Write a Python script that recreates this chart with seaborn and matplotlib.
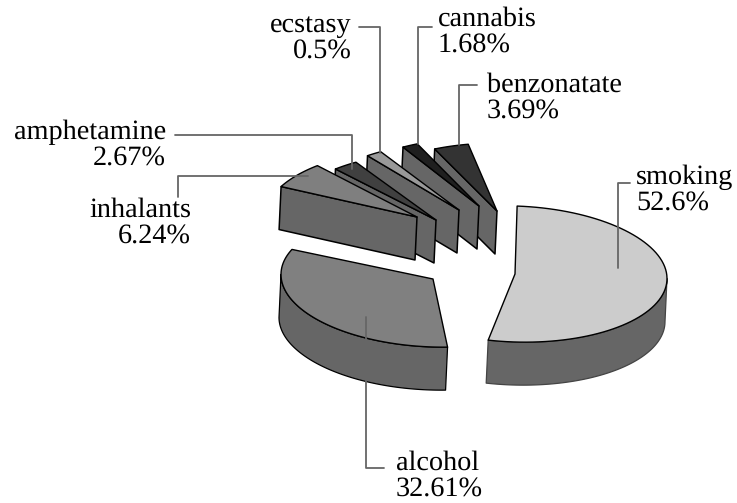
import numpy as np
import matplotlib
matplotlib.use("Agg")
import matplotlib.pyplot as plt
import seaborn as sns

# data
drugs = ["smoking", "alcohol", "inhalants", "amphetamine", "ecstasy", "cannabis", "benzonatate"]
percent = [52.6, 32.61, 6.24, 2.67, 0.5, 1.68, 3.69]

# how each wedge sits in the exploded pie (pixels, degrees clockwise from top)
start_deg = [0.8, 174.5, 296.6, 318.6, 323.0, 330.0, 335.8]
apex_px = [(515, 274), (433, 279), (417, 217), (436, 220), (459, 210), (479, 206), (497, 211)]
tilt = [0.03, 0.03, 0, 0, 0, 0, 0]
top_colors = ["#cccccc", "#808080", "#7f7f7f", "#404040", "#999999", "#1f1f1f", "#333333"]
wall_edges = ["#444444", "black", "black", "black", "black", "black", "black"]
side_color = "#666666"
rx, ry = 152, 68
depth = np.array([-2, 43])
min_sweep = 6.0

# text anchor of the label, first line baseline
label_pos = [(636, 184, "left"), (396, 470, "left"), (191, 217, "right"), (166, 139, "right"),
             (352, 32, "right"), (438, 26, "left"), (487, 92, "left")]
leaders = [[(630, 183), (618, 183), (618, 268)],
           [(366, 317), (366, 468), (384, 468)],
           [(178, 197), (178, 176), (308, 176)],
           [(175, 135), (352, 135), (352, 169)],
           [(359, 27), (380, 27), (380, 153)],
           [(432, 27), (418, 27), (418, 144)],
           [(477, 85), (459, 85), (459, 145)]]

sns.set_theme(style="white")
plt.rcParams["font.family"] = ["Liberation Serif", "DejaVu Serif"]
plt.rcParams["text.hinting"] = "none"
palette = sns.color_palette(top_colors)

fig, ax = plt.subplots(figsize=(7.37, 5.03), dpi=100)
ax.set_position([0, 0, 1, 1])


def arc(apex, a0, a1, k):
    t = np.radians(np.linspace(a0, a1, 80))
    dx = rx * np.sin(t)
    return np.column_stack([apex[0] + dx, apex[1] - ry * np.cos(t) + k * dx])


def poly(pts, color, z, edge="black", lw=1.0):
    ax.fill(pts[:, 0], pts[:, 1], facecolor=color, edgecolor=edge, linewidth=lw,
            joinstyle="round", zorder=z)


# back wedges first, the ones on the left lie over the ones on the right
for i in range(len(drugs) - 1, -1, -1):
    a0 = start_deg[i]
    a1 = a0 + max(percent[i] * 3.6, min_sweep)
    apex = np.array(apex_px[i], dtype=float)
    z = 10 + (len(drugs) - i) * 3

    lo, hi = max(a0, 90), min(a1, 270)
    if lo < hi:
        upper = arc(apex, lo, hi, tilt[i])
        poly(np.vstack([upper, upper[::-1] + depth]), side_color, z, wall_edges[i], 0.9)
    if 270 <= a0 < 360:
        p = arc(apex, a0, a0, tilt[i])[0]
        poly(np.array([p, apex, apex + depth, p + depth]), side_color, z, wall_edges[i], 1.1)

    top = np.vstack([[apex], arc(apex, a0, a1, tilt[i])])
    poly(top, palette[i], z + 1)

for pts in leaders:
    xs = [p[0] for p in pts]
    ys = [p[1] for p in pts]
    sns.lineplot(x=xs, y=ys, sort=False, estimator=None, color="#666666", linewidth=1.3,
                 ax=ax, zorder=50, legend=False)

for name, val, (x, y, ha) in zip(drugs, percent, label_pos):
    ax.text(x, y, name, fontsize=20.3, ha=ha, va="baseline", color="black", zorder=60)
    ax.text(x, y + 26.5, f"{val}%", fontsize=20.3, ha=ha, va="baseline", color="black", zorder=60)

ax.set_xlim(0, 737)
ax.set_ylim(503, 0)
ax.axis("off")
fig.savefig("out.png", dpi=100)
